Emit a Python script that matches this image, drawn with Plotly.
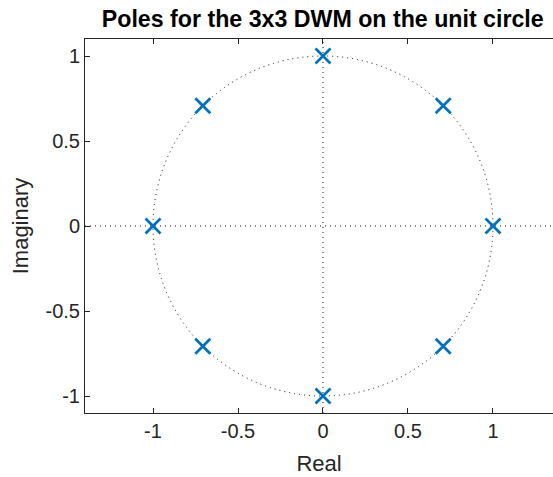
import plotly.graph_objects as go

# Pole locations of the 3x3 digital waveguide mesh (real / imaginary parts)
pole_real = [1, 0.707, 0, -0.707, -1, -0.707, 0, 0.707]
pole_imag = [0, 0.707, 1, 0.707, 0, -0.707, -1, -0.707]

# Axis ticks
x_tick_vals = [-1, -0.5, 0, 0.5, 1]
x_tick_text = ["-1", "-0.5", "0", "0.5", "1"]
y_tick_vals = [-1, -0.5, 0, 0.5, 1]
y_tick_text = ["-1", "-0.5", "0", "0.5", "1"]

FONT = "Liberation Sans, Arial, Helvetica, sans-serif"
AX = "#262626"
BLUE = "#0072BD"
DOTS = "1px,4px"

fig = go.Figure()
fig.add_trace(go.Scatter(
    x=pole_real, y=pole_imag, mode="markers",
    marker=dict(symbol="x-thin-open", size=15, color=BLUE,
                line=dict(color=BLUE, width=2.7)),
    showlegend=False, hoverinfo="x+y",
))

# unit circle and the real / imaginary axes drawn as dotted guides
fig.add_shape(type="circle", xref="x", yref="y", x0=-1, y0=-1, x1=1, y1=1,
              line=dict(color="#111111", width=1, dash=DOTS), layer="below")
fig.add_shape(type="line", xref="x domain", yref="y", x0=0, x1=1, y0=0, y1=0,
              line=dict(color="#111111", width=1, dash=DOTS), layer="below")
fig.add_shape(type="line", xref="x", yref="y domain", x0=0, x1=0, y0=0, y1=1,
              line=dict(color="#111111", width=1, dash=DOTS), layer="below")

axis_common = dict(
    ticks="inside", ticklen=5, tickwidth=1, tickcolor=AX,
    showline=True, linecolor=AX, linewidth=1,
    showgrid=False, zeroline=False,
    tickfont=dict(family=FONT, size=20, color=AX),
)

fig.update_layout(
    width=553, height=477, autosize=False,
    margin=dict(l=85, r=0, t=39, b=64, pad=0),
    paper_bgcolor="white", plot_bgcolor="white",
    title=dict(text="Poles for the 3x3 DWM on the unit circle",
               font=dict(family=FONT, size=23.2, color="black", weight="bold"),
               x=0.508, xref="paper", xanchor="center",
               y=1 - 19 / 477, yref="container", yanchor="middle"),
    xaxis=dict(range=[-1.4, 1.353], tickmode="array",
               tickvals=x_tick_vals, ticktext=x_tick_text,
               mirror="ticks",
               title=dict(text="Real", font=dict(family=FONT, size=22, color=AX),
                          standoff=14),
               **axis_common),
    yaxis=dict(range=[-1.1, 1.1], tickmode="array",
               tickvals=y_tick_vals, ticktext=y_tick_text,
               mirror=False,
               title=dict(text="Imaginary", font=dict(family=FONT, size=22, color=AX),
                          standoff=10),
               **axis_common),
)

fig.write_html("out.html")
